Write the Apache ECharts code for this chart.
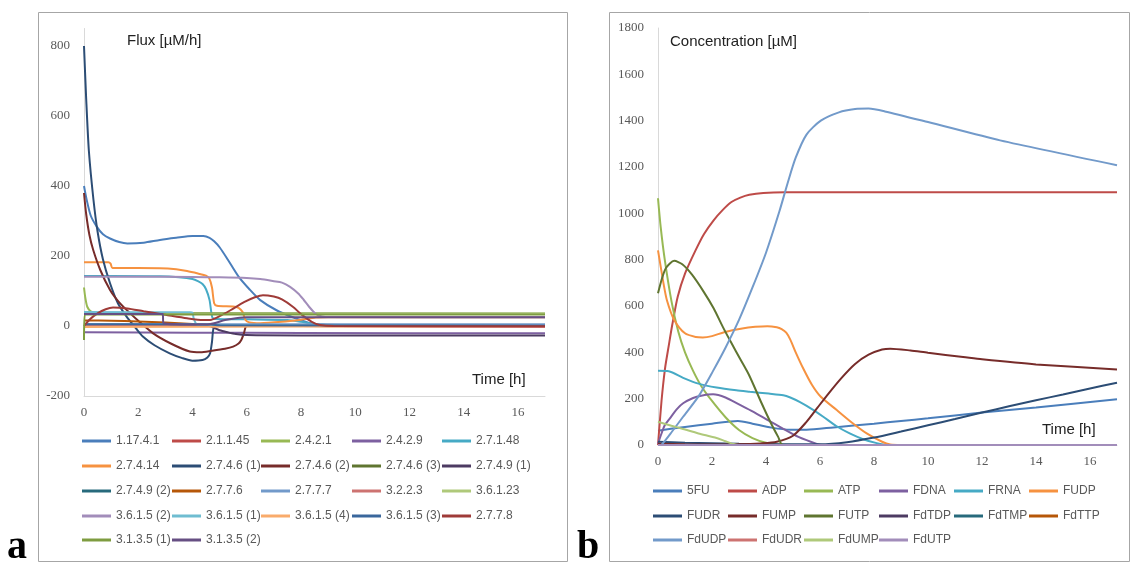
<!DOCTYPE html>
<html>
<head>
<meta charset="utf-8">
<script src="https://cdn.jsdelivr.net/npm/echarts@6/dist/echarts.min.js"></script>
<style>
  html, body { margin: 0; padding: 0; background: #fff; }
  #chart { width: 1131px; height: 565px; }
</style>
</head>
<body>
<div id="chart"></div>
<script>
// ---- panel a : flux [uM/h] vs time [h], each series as [t, v] ----
var fluxNames = ['1.17.4.1', '2.1.1.45', '2.4.2.1', '2.4.2.9', '2.7.1.48',
  '2.7.4.14', '2.7.4.6 (1)', '2.7.4.6 (2)', '2.7.4.6 (3)', '2.7.4.9 (1)',
  '2.7.4.9 (2)', '2.7.7.6', '2.7.7.7', '3.2.2.3', '3.6.1.23',
  '3.6.1.5 (2)', '3.6.1.5 (1)', '3.6.1.5 (4)', '3.6.1.5 (3)', '2.7.7.8',
  '3.1.3.5 (1)', '3.1.3.5 (2)'];

var f1 = [[0,400],[0.1,360],[0.25,315],[0.47,284],[0.7,262],[0.96,250],[1.3,240],[1.6,236],[2.2,238],[2.8,246],[3.4,252],[4,257],[4.4,257],[4.63,252],[4.8,242],[5,225],[5.3,190],[5.7,141],[6.1,105],[6.5,74],[7.1,45],[7.7,25],[8.3,9],[8.8,4],[9.5,3],[17,3]];
var f2 = [[0,3],[5,2],[9,-1],[17,-2]];
var f3 = [[0,110],[0.05,80],[0.12,55],[0.25,42],[0.5,37],[17,35]];
var f4 = [[0,-18],[4,-19],[8,-20],[17,-21]];
var f5 = [[0,143],[1,143],[2.8,142],[3.5,139],[4,134],[4.2,128],[4.37,120],[4.5,105],[4.63,74],[4.73,25],[4.85,20],[6,19],[7.5,17],[8,12],[8.5,5],[9,3],[17,3]];
var f6 = [[0,182],[0.9,182],[0.98,178],[1.05,166],[2.8,165],[3.4,162],[3.8,157],[4.2,150],[4.5,144],[4.62,136],[4.72,110],[4.8,65],[4.9,58],[5.5,56],[5.7,52],[5.85,40],[5.95,18],[6.1,10],[6.5,8],[7.3,12],[8,18],[8.55,24],[9,25],[17,25]];
var f7 = [[0,800],[0.08,650],[0.18,500],[0.35,360],[0.5,270],[0.7,190],[0.96,122],[1.25,65],[1.57,27],[1.9,-5],[2.17,-30],[2.6,-55],[3.16,-78],[3.6,-91],[4,-99],[4.37,-97],[4.55,-90],[4.65,-78],[4.72,-45],[4.78,-5],[4.9,0],[17,0]];
var f8 = [[0,380],[0.08,320],[0.2,260],[0.34,217],[0.6,160],[0.96,103],[1.25,72],[1.57,46],[2,15],[2.55,-21],[3.2,-50],[3.9,-73],[4.3,-75],[4.7,-71],[5.2,-65],[5.5,-59],[5.7,-50],[5.8,-40],[5.9,-20],[5.98,0],[6.2,3],[17,3]];
var f9 = [[0,36],[17,35]];
var f10 = [[0,0],[4.6,0],[4.8,-5],[5,-12],[5.3,-18],[5.6,-23],[6,-26],[8,-27],[17,-27]];
var f11 = [[0,1],[17,1]];
var f12 = [[0,16],[1,15],[2,13],[3,10],[4,6],[4.7,3],[5,1],[17,0]];
var f13 = [[0,5],[17,5]];
var f14 = [[0,0],[17,0]];
var f15 = [[0,35],[17,36]];
var f16 = [[0,141],[2,141],[4,140],[5,139],[6,137],[6.5,134],[7,128],[7.3,124],[7.6,112],[7.9,93],[8.1,75],[8.3,55],[8.5,38],[8.65,30],[8.9,26],[17,25]];
var f17 = [[0,40],[3.9,39],[4.0,38],[4.05,20],[4.2,2],[17,0]];
var f18 = [[0,-3],[17,0]];
var f19 = [[0,5],[4.7,4],[5,2],[17,1]];
var f20 = [[0,0],[0.2,18],[0.5,36],[0.8,48],[1.07,53],[1.6,50],[2.2,42],[3,32],[3.8,22],[4.4,17],[4.7,18],[5,28],[5.4,45],[5.9,68],[6.3,82],[6.6,88],[7,84],[7.3,76],[7.7,55],[8.05,31],[8.4,12],[8.7,3],[9.2,0],[17,-1]];
var f21 = [[0,-40],[0.03,33],[17,33]];
var f22 = [[0,34],[2.9,34],[2.93,8],[4.5,4],[4.8,8],[5.2,17],[5.6,22],[6,25],[17,25]];
var fluxData = [f1,f2,f3,f4,f5,f6,f7,f8,f9,f10,f11,f12,f13,f14,f15,f16,f17,f18,f19,f20,f21,f22];

// ---- panel b : concentration [uM] vs time [h] ----
var concNames = ['5FU', 'ADP', 'ATP', 'FDNA', 'FRNA', 'FUDP',
  'FUDR', 'FUMP', 'FUTP', 'FdTDP', 'FdTMP', 'FdTTP',
  'FdUDP', 'FdUDR', 'FdUMP', 'FdUTP'];

var c5FU = [[0,62],[1,78],[2,92],[2.96,104],[3.5,92],[4.2,75],[4.9,66],[5.5,66],[6.5,76],[8,92],[9,104],[10,115],[12,140],[14,162],[17,197]];
var cADP = [[0,0],[0.13,190],[0.26,330],[0.4,430],[0.53,520],[0.73,640],[1,740],[1.39,840],[1.7,910],[2.06,970],[2.4,1015],[2.72,1049],[3.05,1068],[3.38,1080],[3.9,1088],[4.7,1091],[17,1091]];
var cATP = [[0,1065],[0.1,940],[0.25,800],[0.5,620],[0.75,490],[1,400],[1.3,320],[1.6,255],[2,190],[2.5,120],[3,65],[3.5,30],[4,10],[4.5,2],[5,0],[17,0]];
var cFDNA = [[0,5],[0.1,40],[0.25,85],[0.44,115],[0.7,155],[0.93,180],[1.3,203],[1.6,213],[2.04,219],[2.5,205],[3,175],[3.5,145],[4,112],[4.64,70],[5.2,35],[5.88,5],[6.1,0],[17,0]];
var cFRNA = [[0,320],[0.4,318],[0.93,290],[1.5,265],[2.17,248],[2.9,236],[3.4,230],[4.1,222],[4.64,215],[4.9,205],[5.26,185],[5.7,155],[6.12,122],[6.6,82],[7.1,50],[7.6,25],[8.1,8],[8.5,0],[17,0]];
var cFUDP = [[0,840],[0.1,770],[0.2,700],[0.33,625],[0.6,540],[1,482],[1.4,466],[1.66,464],[2,470],[2.45,487],[3.12,503],[3.6,510],[4.05,513],[4.4,508],[4.58,500],[4.75,485],[4.9,455],[5.1,400],[5.38,330],[5.7,260],[6.03,208],[6.62,151],[7.2,95],[7.73,50],[8.3,14],[8.6,2],[9,0],[17,0]];
var cFUDR = [[0,14],[1,10],[3,5],[6,3],[7,12],[8,32],[9,58],[10,85],[11,112],[12,140],[13,167],[14,193],[15,218],[16,244],[17,269]];
var cFUMP = [[0,5],[1,3],[2,2],[3,3],[3.8,7],[4.4,14],[5,40],[5.5,100],[5.9,160],[6.3,220],[6.8,290],[7.3,350],[7.8,390],[8.3,412],[8.6,416],[9.35,408],[10,398],[11.3,380],[12,370],[14,348],[17,326]];
var cFUTP = [[0,655],[0.15,720],[0.3,765],[0.6,795],[0.9,780],[1.26,735],[1.7,660],[2.06,590],[2.4,510],[2.72,440],[3.05,370],[3.38,300],[3.8,190],[4.18,95],[4.45,35],[4.62,0],[17,0]];
var cFdTDP = [[0,0],[17,0]];
var cFdTMP = [[0,0],[17,0]];
var cFdTTP = [[0,0],[17,0]];
var cFdUDP = [[0,0],[0.1,0],[0.2,10],[0.5,55],[0.93,122],[1.5,210],[2.04,320],[2.5,420],[3,540],[3.5,680],[4,830],[4.5,1010],[4.8,1130],[5.1,1240],[5.5,1340],[6.03,1400],[6.7,1436],[7.3,1450],[7.8,1452],[8.4,1440],[10,1394],[12.67,1315],[17,1208]];
var cFdUDR = [[0,0],[17,0]];
var cFdUMP = [[0,100],[0.5,83],[0.93,69],[1.5,50],[2.17,30],[2.5,16],[2.8,4],[3,0],[17,0]];
var cFdUTP = [[0,0],[17,0]];
var concData = [c5FU,cADP,cATP,cFDNA,cFRNA,cFUDP,cFUDR,cFUMP,cFUTP,cFdTDP,cFdTMP,cFdTTP,cFdUDP,cFdUDR,cFdUMP,cFdUTP];

var timeTicks = [0, 2, 4, 6, 8, 10, 12, 14, 16];

// excel 2010 style palette
var palette = ['#4A7EBB','#BE4B48','#98B954','#7D60A0','#46AAC5','#F69240',
  '#2C4D75','#772C2A','#5F7530','#4D3B62','#276A7C','#B65708',
  '#729ACA','#CD7371','#AFC97A','#A28DBA','#6FBDD1','#F9AB6B',
  '#3A679C','#9F3B38','#7E9C40','#664F83'];

var serif = '"Liberation Serif", "DejaVu Serif", serif';
var sans = '"Liberation Sans", Arial, sans-serif';
var grey = '#595959';

function xAxisFor(gi) {
  return {
    type: 'value', gridIndex: gi, min: 0, max: 17, interval: 2,
    axisLine: { onZero: false, lineStyle: { color: '#d9d9d9' } },
    axisTick: { show: false },
    splitLine: { show: false },
    axisLabel: { color: grey, fontFamily: serif, fontSize: 13, margin: 10, showMaxLabel: false,
      formatter: function (v) { return timeTicks.indexOf(v) >= 0 ? String(v) : ''; } }
  };
}

function yAxisFor(gi, min, max) {
  return {
    type: 'value', gridIndex: gi, min: min, max: max, interval: 200,
    axisLine: { show: true, lineStyle: { color: '#d9d9d9' } },
    axisTick: { show: false },
    splitLine: { show: false },
    axisLabel: { color: grey, fontFamily: serif, fontSize: 13, margin: 14, showMaxLabel: max % 200 === 0,
      formatter: function (v) { return String(v); } }
  };
}

var series = [];
var legends = [];
var fluxCols = [82, 172, 261, 352, 442];
var fluxRows = [442, 467, 492, 517, 541];
var concCols = [653, 728, 804, 879, 954, 1029];
var concRows = [492, 517, 541];

function addPanel(names, datas, gi, cols, rows) {
  names.forEach(function (name, i) {
    series.push({
      name: name, type: 'line', xAxisIndex: gi, yAxisIndex: gi,
      data: datas[i], showSymbol: false, symbol: 'none', smooth: 0.25,
      lineStyle: { width: 2, color: palette[i] }, itemStyle: { color: palette[i] }
    });
    legends.push({
      data: [name], left: cols[i % cols.length], top: rows[Math.floor(i / cols.length)] - 7,
      padding: 0, icon: 'rect', itemWidth: 29, itemHeight: 3, selectedMode: false,
      textStyle: { color: grey, fontFamily: sans, fontSize: 12 }
    });
  });
}
addPanel(fluxNames, fluxData, 0, fluxCols, fluxRows);
addPanel(concNames, concData, 1, concCols, concRows);

var chart = echarts.init(document.getElementById('chart'), null, { renderer: 'canvas' });
chart.setOption({
  animation: false,
  backgroundColor: '#fff',
  grid: [
    { left: 84, top: 28.5, width: 461, height: 367.5 },
    { left: 658, top: 28, width: 459, height: 417 }
  ],
  xAxis: [xAxisFor(0), xAxisFor(1)],
  yAxis: [yAxisFor(0, -200, 850), yAxisFor(1, 0, 1800)],
  legend: legends,
  series: series,
  graphic: [
    { type: 'rect', shape: { x: 38.5, y: 12.5, width: 529, height: 549 }, style: { fill: 'none', stroke: '#a6a6a6', lineWidth: 1 }, z: -1 },
    { type: 'rect', shape: { x: 609.5, y: 12.5, width: 520, height: 549 }, style: { fill: 'none', stroke: '#a6a6a6', lineWidth: 1 }, z: -1 },
    { type: 'text', left: 127, top: 33, style: { text: 'Flux [µM/h]', fill: '#222', font: '15px ' + sans } },
    { type: 'text', left: 472, top: 372, style: { text: 'Time [h]', fill: '#222', font: '15px ' + sans } },
    { type: 'text', left: 670, top: 34, style: { text: 'Concentration [µM]', fill: '#222', font: '15px ' + sans } },
    { type: 'text', left: 1042, top: 422, style: { text: 'Time [h]', fill: '#222', font: '15px ' + sans } },
    { type: 'text', left: 7, top: 528, style: { text: 'a', fill: '#000', font: 'bold 40px ' + serif } },
    { type: 'text', left: 577, top: 528, style: { text: 'b', fill: '#000', font: 'bold 40px ' + serif } }
  ]
});
</script>
</body>
</html>
